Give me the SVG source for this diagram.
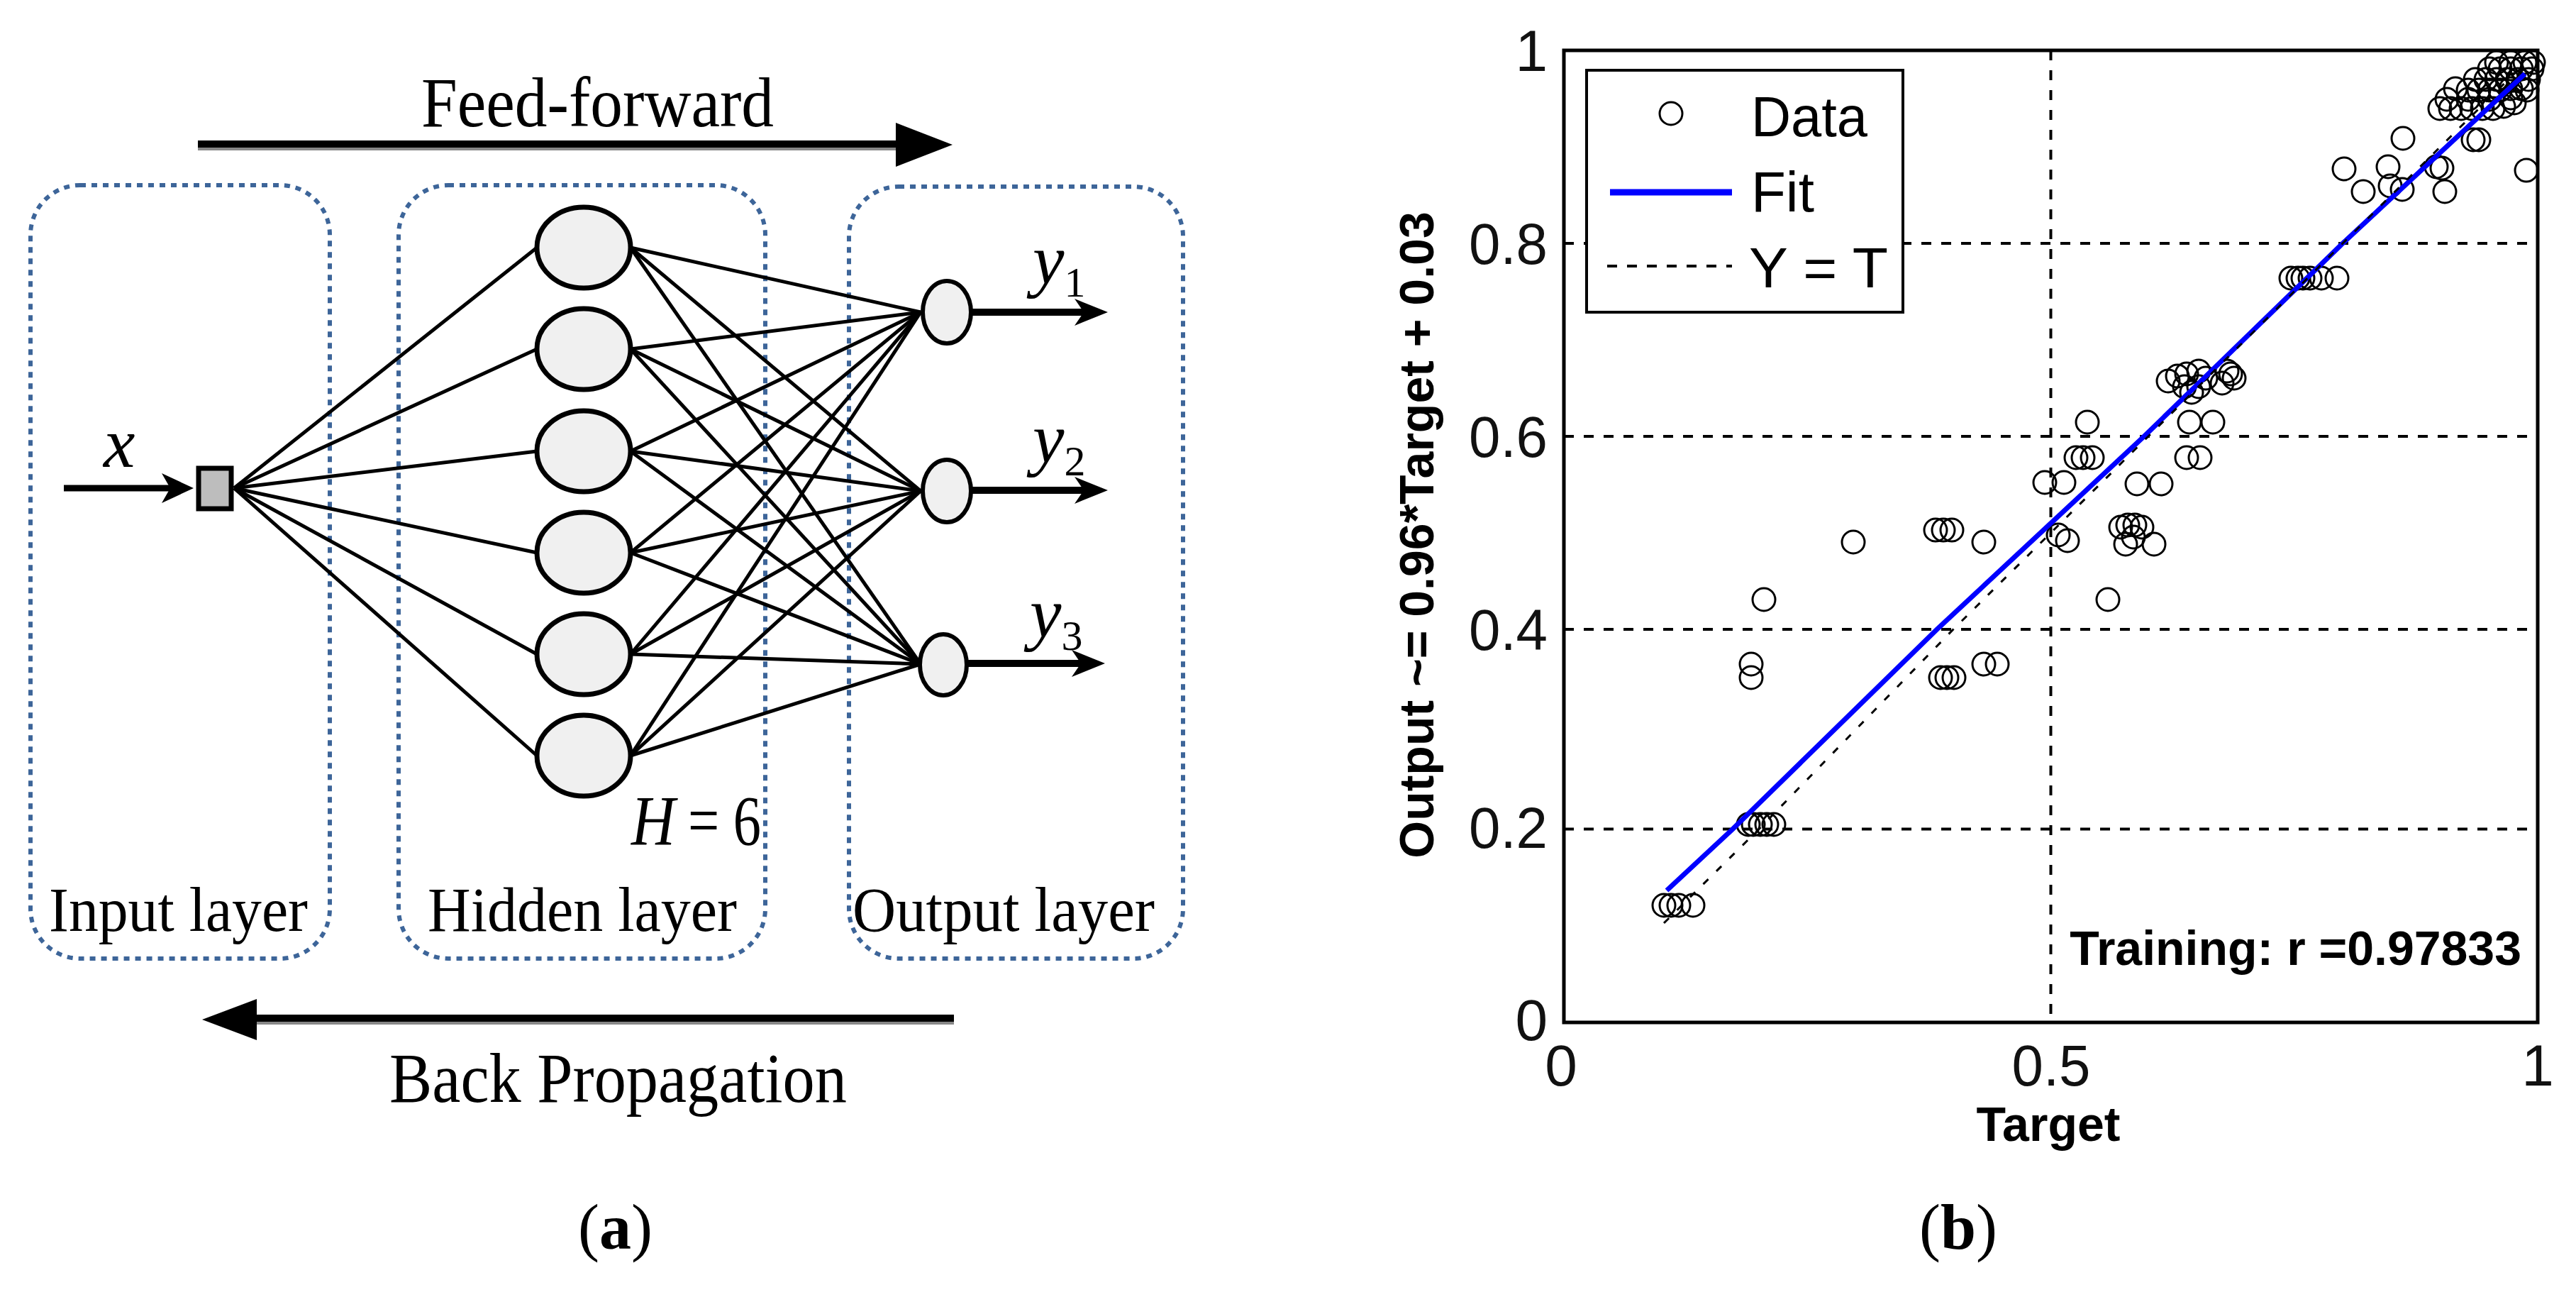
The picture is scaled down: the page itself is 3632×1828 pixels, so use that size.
<svg xmlns="http://www.w3.org/2000/svg" xmlns:xlink="http://www.w3.org/1999/xlink" width="3632" height="1828" viewBox="0 0 3632 1828">
<style>
.box{fill:none;stroke:#3d6599;stroke-width:6;stroke-dasharray:8 8}
.hn{fill:#f0f0f0;stroke:#000;stroke-width:7}
.on{fill:#f0f0f0;stroke:#000;stroke-width:6}
.cn{stroke:#000;stroke-width:5;fill:none}
.grid{stroke:#000;stroke-width:4;stroke-dasharray:14 14;fill:none}
.pt{fill:none;stroke:#000;stroke-width:3}
.serif{font-family:"Liberation Serif","Times New Roman",serif;fill:#000}
.sans{font-family:"Liberation Sans",Arial,sans-serif;fill:#000}
.tick{font-family:"Liberation Sans",Arial,sans-serif;font-size:82px;fill:#111}
.bold{font-weight:bold}
</style>
<defs>
<circle id="d" r="16" class="pt"/>
</defs>
<rect width="3632" height="1828" fill="#fff"/>

<!-- ===== Panel (a) ===== -->
<g id="layer-boxes">
<rect id="input-layer" class="box" x="43" y="261" width="422" height="1090" rx="70" ry="70"/>
<rect id="hidden-layer" class="box" x="562" y="261" width="517" height="1090" rx="70" ry="70"/>
<rect id="output-layer" class="box" x="1197" y="263" width="471" height="1088" rx="70" ry="70"/>
</g>

<g id="connectors">
<!-- input to hidden -->
<line class="cn" x1="330" y1="688" x2="757" y2="349"/>
<line class="cn" x1="330" y1="688" x2="757" y2="492"/>
<line class="cn" x1="330" y1="688" x2="757" y2="636"/>
<line class="cn" x1="330" y1="688" x2="757" y2="779"/>
<line class="cn" x1="330" y1="688" x2="757" y2="922"/>
<line class="cn" x1="330" y1="688" x2="757" y2="1065"/>
<!-- hidden to output -->
<line class="cn" x1="889" y1="349" x2="1298" y2="440"/>
<line class="cn" x1="889" y1="349" x2="1298" y2="692"/>
<line class="cn" x1="889" y1="349" x2="1298" y2="936"/>
<line class="cn" x1="889" y1="492" x2="1298" y2="440"/>
<line class="cn" x1="889" y1="492" x2="1298" y2="692"/>
<line class="cn" x1="889" y1="492" x2="1298" y2="936"/>
<line class="cn" x1="889" y1="636" x2="1298" y2="440"/>
<line class="cn" x1="889" y1="636" x2="1298" y2="692"/>
<line class="cn" x1="889" y1="636" x2="1298" y2="936"/>
<line class="cn" x1="889" y1="779" x2="1298" y2="440"/>
<line class="cn" x1="889" y1="779" x2="1298" y2="692"/>
<line class="cn" x1="889" y1="779" x2="1298" y2="936"/>
<line class="cn" x1="889" y1="922" x2="1298" y2="440"/>
<line class="cn" x1="889" y1="922" x2="1298" y2="692"/>
<line class="cn" x1="889" y1="922" x2="1298" y2="936"/>
<line class="cn" x1="889" y1="1065" x2="1298" y2="440"/>
<line class="cn" x1="889" y1="1065" x2="1298" y2="692"/>
<line class="cn" x1="889" y1="1065" x2="1298" y2="936"/>
<!-- x input arrow -->
<line x1="90" y1="688" x2="245" y2="688" stroke="#000" stroke-width="9"/>
<path d="M273,688 L228,667 L240,688 L228,709 Z" fill="#000"/>
<!-- output arrows -->
<line x1="1370" y1="440" x2="1532" y2="440" stroke="#000" stroke-width="10"/>
<path d="M1562,440 L1515,421 L1528,440 L1515,459 Z" fill="#000"/>
<line x1="1370" y1="691" x2="1532" y2="691" stroke="#000" stroke-width="10"/>
<path d="M1562,691 L1515,672 L1528,691 L1515,710 Z" fill="#000"/>
<line x1="1364" y1="935" x2="1528" y2="935" stroke="#000" stroke-width="10"/>
<path d="M1558,935 L1511,916 L1524,935 L1511,954 Z" fill="#000"/>
<!-- feed-forward arrow -->
<line x1="279" y1="209" x2="1268" y2="209" stroke="#888" stroke-width="6"/>
<line x1="279" y1="203" x2="1268" y2="203" stroke="#000" stroke-width="10"/>
<polygon points="1263,173 1343,204 1263,235" fill="#000"/>
<!-- back propagation arrow -->
<line x1="358" y1="1441" x2="1345" y2="1441" stroke="#888" stroke-width="6"/>
<line x1="358" y1="1435" x2="1345" y2="1435" stroke="#000" stroke-width="10"/>
<polygon points="362,1408 285,1437 362,1466" fill="#000"/>
</g>

<g id="input-node">
<rect x="280" y="660" width="46" height="57" fill="#bdbdbd" stroke="#000" stroke-width="7"/>
</g>
<g id="hidden-nodes">
<ellipse id="h1" class="hn" cx="823" cy="349" rx="66" ry="57"/>
<ellipse id="h2" class="hn" cx="823" cy="492" rx="66" ry="57"/>
<ellipse id="h3" class="hn" cx="823" cy="636" rx="66" ry="57"/>
<ellipse id="h4" class="hn" cx="823" cy="779" rx="66" ry="57"/>
<ellipse id="h5" class="hn" cx="823" cy="922" rx="66" ry="57"/>
<ellipse id="h6" class="hn" cx="823" cy="1065" rx="66" ry="57"/>
</g>
<g id="output-nodes">
<ellipse id="o1" class="on" cx="1335" cy="440" rx="34" ry="44"/>
<ellipse id="o2" class="on" cx="1335" cy="692" rx="34" ry="44"/>
<ellipse id="o3" class="on" cx="1330" cy="937" rx="33" ry="43"/>
</g>

<g id="labels-a" class="serif">
<text x="594" y="178" font-size="100" textLength="497" lengthAdjust="spacingAndGlyphs">Feed-forward</text>
<text x="549" y="1553" font-size="100" textLength="645" lengthAdjust="spacingAndGlyphs">Back Propagation</text>
<text x="69" y="1312" font-size="88" textLength="365" lengthAdjust="spacingAndGlyphs">Input layer</text>
<text x="603" y="1312" font-size="88" textLength="436" lengthAdjust="spacingAndGlyphs">Hidden layer</text>
<text x="1202" y="1312" font-size="88" textLength="426" lengthAdjust="spacingAndGlyphs">Output layer</text>
<text x="890" y="1190" font-size="100" font-style="italic" textLength="62" lengthAdjust="spacingAndGlyphs">H</text>
<text x="970" y="1190" font-size="100" textLength="103" lengthAdjust="spacingAndGlyphs">= 6</text>
<text x="146" y="658" font-size="100" font-style="italic">x</text>
<text x="1456" y="400" font-size="100" font-style="italic">y<tspan font-style="normal" font-size="60" dy="18">1</tspan></text>
<text x="1456" y="652" font-size="100" font-style="italic">y<tspan font-style="normal" font-size="60" dy="18">2</tspan></text>
<text x="1452" y="898" font-size="100" font-style="italic">y<tspan font-style="normal" font-size="60" dy="18">3</tspan></text>
<text x="815" y="1760" font-size="90">(<tspan font-weight="bold">a</tspan>)</text>
</g>

<!-- ===== Panel (b) ===== -->
<g id="plot-grid">
<line class="grid" x1="2891.5" y1="71" x2="2891.5" y2="1441"/>
<line class="grid" x1="2205" y1="343" x2="3578" y2="343"/>
<line class="grid" x1="2205" y1="615" x2="3578" y2="615"/>
<line class="grid" x1="2205" y1="887" x2="3578" y2="887"/>
<line class="grid" x1="2205" y1="1168.5" x2="3578" y2="1168.5"/>
</g>

<g id="data">
<use href="#d" x="2346" y="1276"/><use href="#d" x="2356" y="1276"/><use href="#d" x="2367" y="1276"/><use href="#d" x="2387" y="1276"/>
<use href="#d" x="2465" y="1162"/><use href="#d" x="2472" y="1162"/><use href="#d" x="2482" y="1162"/><use href="#d" x="2491" y="1162"/><use href="#d" x="2501" y="1162"/>
<use href="#d" x="2469" y="936"/><use href="#d" x="2469" y="955"/>
<use href="#d" x="2487" y="845"/>
<use href="#d" x="2613" y="764"/>
<use href="#d" x="2729" y="747"/><use href="#d" x="2740" y="747"/><use href="#d" x="2752" y="747"/>
<use href="#d" x="2797" y="764"/>
<use href="#d" x="2736" y="955"/><use href="#d" x="2745" y="955"/><use href="#d" x="2755" y="955"/>
<use href="#d" x="2797" y="936"/><use href="#d" x="2816" y="936"/>
<use href="#d" x="2902" y="754"/><use href="#d" x="2915" y="762"/>
<use href="#d" x="2972" y="845"/>
<use href="#d" x="2990" y="743"/><use href="#d" x="3000" y="740"/><use href="#d" x="3010" y="740"/><use href="#d" x="3020" y="743"/><use href="#d" x="2997" y="767"/><use href="#d" x="3037" y="767"/><use href="#d" x="3008" y="757"/>
<use href="#d" x="2883" y="680"/><use href="#d" x="2910" y="680"/>
<use href="#d" x="3013" y="682"/><use href="#d" x="3047" y="682"/>
<use href="#d" x="2927" y="645"/><use href="#d" x="2937" y="645"/><use href="#d" x="2950" y="645"/>
<use href="#d" x="3083" y="645"/><use href="#d" x="3102" y="645"/>
<use href="#d" x="2943" y="595"/>
<use href="#d" x="3087" y="595"/><use href="#d" x="3120" y="595"/>
<use href="#d" x="3057" y="537"/><use href="#d" x="3070" y="530"/><use href="#d" x="3083" y="527"/><use href="#d" x="3100" y="523"/><use href="#d" x="3090" y="553"/><use href="#d" x="3110" y="533"/><use href="#d" x="3140" y="523"/><use href="#d" x="3150" y="533"/><use href="#d" x="3133" y="540"/><use href="#d" x="3080" y="545"/><use href="#d" x="3145" y="527"/><use href="#d" x="3100" y="545"/>
<use href="#d" x="3230" y="392"/><use href="#d" x="3240" y="392"/><use href="#d" x="3247" y="392"/><use href="#d" x="3257" y="392"/><use href="#d" x="3273" y="392"/><use href="#d" x="3295" y="392"/>
<use href="#d" x="3305" y="238"/><use href="#d" x="3332" y="270"/><use href="#d" x="3367" y="235"/><use href="#d" x="3370" y="262"/><use href="#d" x="3387" y="267"/><use href="#d" x="3388" y="195"/><use href="#d" x="3435" y="235"/><use href="#d" x="3443" y="237"/><use href="#d" x="3447" y="270"/><use href="#d" x="3487" y="197"/><use href="#d" x="3495" y="197"/><use href="#d" x="3562" y="240"/>
<use href="#d" x="3440" y="153"/><use href="#d" x="3455" y="153"/><use href="#d" x="3470" y="153"/><use href="#d" x="3485" y="153"/><use href="#d" x="3500" y="153"/><use href="#d" x="3515" y="153"/><use href="#d" x="3530" y="150"/><use href="#d" x="3545" y="145"/>
<use href="#d" x="3450" y="140"/><use href="#d" x="3480" y="140"/><use href="#d" x="3510" y="140"/><use href="#d" x="3540" y="138"/>
<use href="#d" x="3462" y="125"/><use href="#d" x="3480" y="127"/><use href="#d" x="3495" y="127"/><use href="#d" x="3510" y="127"/><use href="#d" x="3525" y="127"/><use href="#d" x="3540" y="125"/><use href="#d" x="3555" y="125"/><use href="#d" x="3563" y="127"/>
<use href="#d" x="3490" y="112"/><use href="#d" x="3505" y="112"/><use href="#d" x="3520" y="112"/><use href="#d" x="3535" y="112"/><use href="#d" x="3550" y="112"/><use href="#d" x="3565" y="112"/>
<use href="#d" x="3510" y="97"/><use href="#d" x="3525" y="97"/><use href="#d" x="3540" y="97"/><use href="#d" x="3555" y="97"/><use href="#d" x="3570" y="97"/>
<use href="#d" x="3520" y="88"/><use href="#d" x="3540" y="88"/><use href="#d" x="3560" y="88"/><use href="#d" x="3572" y="88"/>
</g>

<g id="fit-lines">
<polyline points="2350,1255 2443,1168.5 2731,887 3023,615 3303,343 3560,104" fill="none" stroke="#0000ff" stroke-width="7"/>
<polyline points="2346,1301 2480,1168.5 2754,887 3029,615 3303,343 3558,91" fill="none" stroke="#000" stroke-width="3" stroke-dasharray="10 16"/>
</g>

<g id="axes">
<rect x="2205" y="71" width="1373" height="1370" fill="none" stroke="#000" stroke-width="5"/>
</g>

<g id="legend">
<rect x="2237" y="99" width="446" height="341" fill="#fff" stroke="#000" stroke-width="4"/>
<circle cx="2356" cy="160" r="16" class="pt"/>
<line x1="2270" y1="271" x2="2442" y2="271" stroke="#0000ff" stroke-width="9"/>
<line x1="2266" y1="375" x2="2442" y2="375" stroke="#000" stroke-width="4" stroke-dasharray="14 14"/>
<text class="sans" x="2469" y="192" font-size="80" textLength="164" lengthAdjust="spacingAndGlyphs">Data</text>
<text class="sans" x="2469" y="298" font-size="80">Fit</text>
<text class="sans" x="2466" y="405" font-size="80" textLength="196" lengthAdjust="spacingAndGlyphs">Y = T</text>
</g>

<g id="tick-labels" class="tick">
<text x="2182" y="100" text-anchor="end">1</text>
<text x="2182" y="372" text-anchor="end" textLength="111" lengthAdjust="spacingAndGlyphs">0.8</text>
<text x="2182" y="644" text-anchor="end" textLength="111" lengthAdjust="spacingAndGlyphs">0.6</text>
<text x="2182" y="916" text-anchor="end" textLength="111" lengthAdjust="spacingAndGlyphs">0.4</text>
<text x="2182" y="1195" text-anchor="end" textLength="111" lengthAdjust="spacingAndGlyphs">0.2</text>
<text x="2182" y="1466" text-anchor="end">0</text>
<text x="2201" y="1530" text-anchor="middle">0</text>
<text x="2892" y="1530" text-anchor="middle" textLength="111" lengthAdjust="spacingAndGlyphs">0.5</text>
<text x="3578" y="1530" text-anchor="middle">1</text>
</g>

<g id="labels-b" class="sans bold">
<text x="3555" y="1360" font-size="68" text-anchor="end">Training: r =0.97833</text>
<text x="2888" y="1608" font-size="68" text-anchor="middle">Target</text>
<text transform="translate(2021,754) rotate(-90)" font-size="68" text-anchor="middle">Output ~= 0.96*Target + 0.03</text>
</g>
<text class="serif" x="2706" y="1760" font-size="90">(<tspan font-weight="bold">b</tspan>)</text>
</svg>
